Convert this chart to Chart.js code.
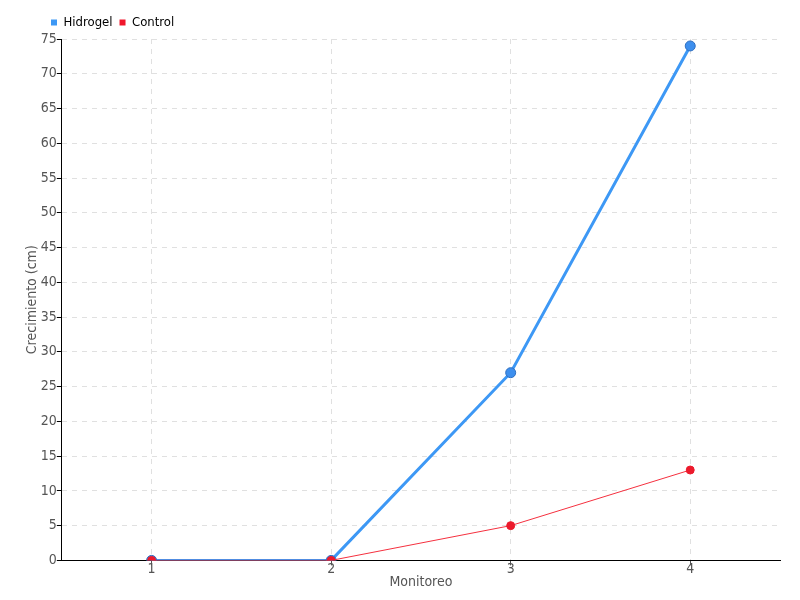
<!DOCTYPE html>
<html>
<head>
<meta charset="utf-8">
<script src="https://cdn.jsdelivr.net/npm/chart.js@4.4.0/dist/chart.umd.min.js"></script>
<style>
html,body{margin:0;padding:0;background:#fff;}
#wrap{width:800px;height:600px;}
</style>
</head>
<body>
<div id="wrap"><canvas id="c" width="800" height="600"></canvas></div>
<script>
const categories = ["1", "2", "3", "4"];
const hidrogel = [0, 0, 27, 74];
const control = [0, 0, 5, 13];
const yTitle = "Crecimiento (cm)";
const xTitle = "Monitoreo";

const FAMILY = "'DejaVu Sans Condensed', 'DejaVu Sans', sans-serif";
const F = (size) => ({ size: size, family: FAMILY, style: 'condensed' });
Chart.defaults.font.family = FAMILY;

new Chart(document.getElementById('c'), {
  type: 'line',
  data: {
    labels: categories,
    datasets: [
      {
        label: 'Hidrogel',
        data: hidrogel,
        borderColor: '#3d98f5',
        backgroundColor: '#3d98f5',
        borderWidth: 3,
        pointRadius: 5,
        pointHoverRadius: 5,
        pointBackgroundColor: '#3d8fee',
        pointBorderColor: '#2f6fc0',
        pointBorderWidth: 1,
        tension: 0,
        order: 1
      },
      {
        label: 'Control',
        data: control,
        borderColor: '#f5303f',
        backgroundColor: '#f0172c',
        borderWidth: 1,
        pointRadius: 4,
        pointHoverRadius: 4,
        pointBackgroundColor: '#ec1a2c',
        pointBorderColor: '#ec1a2c',
        pointBorderWidth: 1,
        tension: 0,
        order: 0
      }
    ]
  },
  options: {
    responsive: false,
    animation: false,
    layout: { padding: { left: 24, right: 20, top: 9, bottom: 9 } },
    plugins: {
      tooltip: { enabled: false },
      legend: {
        position: 'top',
        align: 'start',
        labels: {
          boxWidth: 6,
          boxHeight: 6,
          padding: 7,
          color: '#555',
          font: F(13),
          sort: (a, b) => a.datasetIndex - b.datasetIndex,
          generateLabels: (chart) => chart.data.datasets.map((ds, i) => ({
            text: ds.label,
            fillStyle: ds.backgroundColor,
            strokeStyle: ds.backgroundColor,
            lineWidth: 0,
            datasetIndex: i,
            hidden: false
          }))
        }
      }
    },
    scales: {
      x: {
        offset: true,
        grid: {
          offset: false,
          color: '#e0e0e0',
          drawTicks: true,
          tickLength: 5,
          tickColor: '#555'
        },
        border: { color: '#000', width: 1, dash: [5, 5] },
        ticks: { color: '#555', font: F(14), padding: -4 },
        title: { display: true, text: xTitle, color: '#555', font: F(14), padding: { top: 0, bottom: 0 } }
      },
      y: {
        min: 0,
        max: 75,
        ticks: { stepSize: 5, color: '#555', font: F(14), padding: 0 },
        grid: {
          color: '#e0e0e0',
          tickLength: 5,
          tickColor: '#000'
        },
        border: { color: '#000', width: 1, dash: [5, 5] },
        title: { display: true, text: yTitle, color: '#555', font: F(14), padding: { top: 0, bottom: 0 } }
      }
    }
  },
  plugins: [{
    id: 'legendShift',
    afterLayout(chart) {
      if (chart.legend) { chart.legend.left += 20; }
    }
  }]
});
</script>
</body>
</html>
